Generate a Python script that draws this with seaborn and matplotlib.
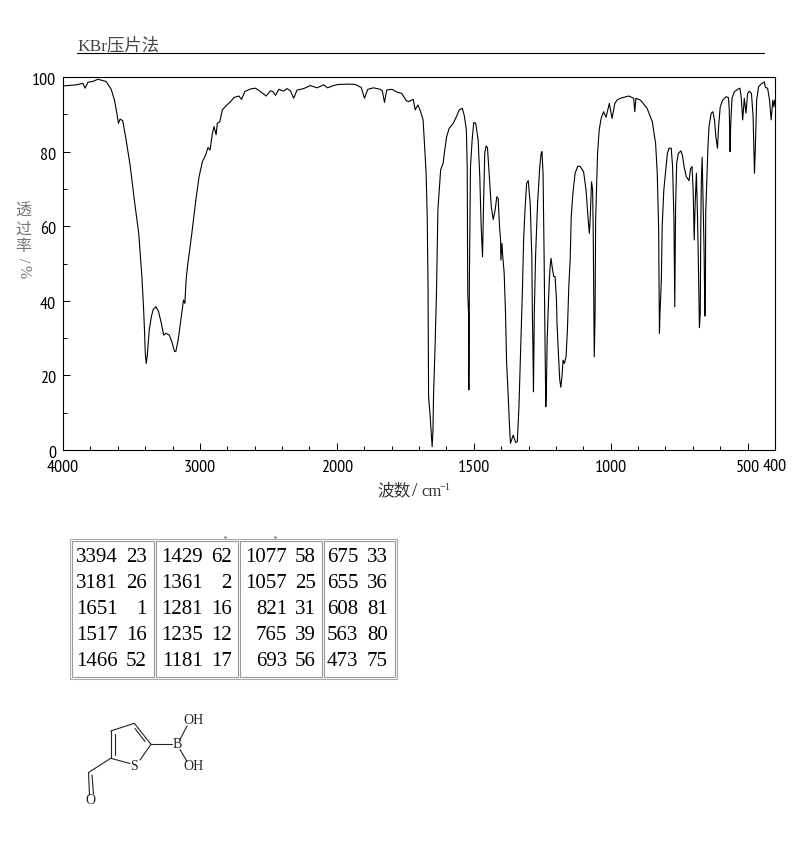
from __future__ import annotations

import matplotlib

matplotlib.use("Agg")
import matplotlib.pyplot as plt
import numpy as np
import pandas as pd
import seaborn as sns
from matplotlib import font_manager
from matplotlib.patches import Rectangle
from matplotlib.transforms import ScaledTranslation


wavenumber = [
    4000, 3903, 3855, 3838, 3818, 3782, 3745, 3685, 3648, 3624, 3607, 3595, 3583, 3564, 3539, 3510, 3479, 3447,
    3423, 3411, 3404, 3399, 3392, 3384, 3370, 3355, 3341, 3321, 3302, 3282, 3265, 3248, 3224, 3205, 3185, 3176,
    3159, 3139, 3120, 3110, 3101, 3091, 3059, 3030, 3006, 2982, 2958, 2941, 2926, 2909, 2897, 2882, 2873, 2855,
    2836, 2812, 2776, 2752, 2715, 2696, 2672, 2630, 2594, 2558, 2516, 2485, 2468, 2448, 2424, 2388, 2364, 2339,
    2315, 2291, 2242, 2194, 2145, 2097, 2068, 2024, 1994, 1957, 1933, 1911, 1899, 1887, 1866, 1842, 1834, 1826,
    1818, 1799, 1779, 1763, 1747, 1738, 1721, 1714, 1704, 1694, 1685, 1680, 1674, 1670, 1667, 1665, 1660, 1652,
    1649, 1647, 1641, 1636, 1631, 1625, 1621, 1612, 1606, 1599, 1590, 1575, 1563, 1553, 1542, 1535, 1527, 1524,
    1522, 1519, 1518, 1517, 1516, 1514, 1512, 1506, 1500, 1493, 1484, 1478, 1473, 1468, 1465, 1460, 1455, 1450,
    1444, 1436, 1429, 1422, 1416, 1411, 1406, 1402, 1401, 1397, 1395, 1389, 1384, 1380, 1374, 1370, 1366, 1356,
    1347, 1341, 1335, 1331, 1325, 1322, 1318, 1313, 1307, 1301, 1294, 1288, 1286, 1284, 1282, 1279, 1274, 1267,
    1259, 1254, 1251, 1247, 1243, 1241, 1237, 1235, 1232, 1227, 1224, 1221, 1218, 1213, 1208, 1203, 1198, 1196,
    1191, 1186, 1182, 1178, 1174, 1169, 1163, 1158, 1153, 1148, 1144, 1138, 1130, 1120, 1111, 1099, 1090, 1084,
    1078, 1075, 1070, 1066, 1064, 1062, 1060, 1057, 1055, 1051, 1048, 1042, 1035, 1026, 1017, 1005, 995, 985,
    977, 965, 934, 916, 912, 908, 891, 867, 848, 836, 830, 825, 822, 820, 818, 815, 812, 806, 799, 793,
    787, 779, 774, 769, 766, 763, 759, 753, 744, 738, 732, 724, 714, 708, 703, 699, 695, 692, 687, 683,
    680, 676, 673, 671, 669, 666, 662, 659, 656, 654, 653, 649, 645, 641, 633, 627, 621, 616, 610, 606,
    600, 591, 579, 570, 567, 564, 562, 557, 549, 536, 528, 523, 518, 512, 506, 500, 494, 486, 480, 475,
    472, 467, 460, 451, 439, 435, 427, 420, 414, 408, 404, 401,
]
transmittance = [
    97.6, 97.9, 98.3, 97.0, 98.6, 98.8, 99.4, 98.8, 96.7, 93.8, 90.3, 87.6, 88.7, 88.3, 83.1, 76.4, 67.0, 58.1,
    46.0, 37.5, 31.3, 25.9, 23.2, 25.5, 32.2, 35.7, 37.7, 38.4, 37.1, 34.0, 30.8, 31.3, 30.8, 29.0, 26.4, 26.4,
    29.5, 34.9, 40.2, 39.3, 45.6, 49.2, 58.1, 67.0, 73.3, 77.3, 79.1, 81.1, 80.4, 84.9, 86.7, 84.5, 87.6, 88.0,
    91.2, 92.2, 93.4, 94.5, 94.9, 94.0, 96.1, 96.8, 97.0, 96.1, 94.9, 96.3, 96.1, 95.1, 96.7, 96.2, 96.9, 96.3,
    94.3, 96.5, 96.9, 97.7, 97.1, 97.9, 97.1, 97.7, 98.0, 98.1, 98.0, 97.2, 94.3, 96.7, 97.1, 96.7, 96.3, 93.2,
    96.5, 96.7, 95.9, 95.6, 93.7, 93.4, 94.0, 91.2, 92.5, 90.7, 88.5, 82.2, 74.2, 62.6, 43.8, 14.3, 9.8, 0.9,
    5.4, 14.3, 28.6, 42.9, 64.3, 70.6, 75.1, 76.9, 80.4, 84.0, 86.2, 87.6, 89.4, 91.2, 91.6, 89.8, 85.8, 76.0,
    42.0, 36.6, 16.1, 27.7, 45.6, 59.9, 76.0, 83.1, 87.8, 87.6, 83.1, 73.3, 59.9, 51.8, 63.5, 79.5, 81.5, 81.1,
    74.2, 65.2, 61.8, 64.3, 67.9, 67.5, 59.9, 56.3, 50.9, 55.4, 52.7, 47.4, 36.6, 23.2, 14.3, 7.1, 1.8, 4.0,
    2.0, 2.2, 11.6, 21.4, 36.6, 43.8, 56.3, 64.3, 71.5, 72.2, 66.1, 51.8, 36.6, 27.7, 15.6, 36.6, 52.7, 66.1,
    76.0, 79.5, 80.0, 74.2, 50.9, 36.6, 11.6, 15.2, 29.5, 40.2, 45.6, 49.2, 51.4, 48.7, 46.5, 46.5, 40.2, 34.0,
    25.9, 18.8, 16.8, 19.7, 24.1, 23.2, 25.0, 32.2, 43.8, 50.9, 62.6, 68.8, 74.2, 76.1, 76.0, 74.6, 69.7, 63.5,
    58.1, 61.7, 71.9, 69.7, 59.9, 42.0, 25.0, 36.6, 61.7, 71.5, 79.5, 85.8, 88.9, 90.7, 89.2, 92.9, 88.9, 92.9,
    93.8, 94.3, 94.9, 94.3, 90.7, 94.3, 93.8, 91.6, 88.0, 82.2, 74.2, 59.9, 31.3, 36.6, 40.2, 45.6, 59.9, 69.7, 75.0, 79.5,
    80.9, 80.9, 76.0, 61.7, 38.4, 65.2, 76.9, 79.5, 80.2, 79.0, 76.0, 73.3, 72.2, 75.5, 76.0, 69.7, 56.3, 65.2, 74.2, 62.6,
    50.9, 32.8, 36.6, 59.9, 72.4, 78.5, 64.3, 53.6, 35.9, 45.6, 63.5, 72.4, 80.9, 86.7, 90.3, 90.7, 88.5, 84.0, 80.9, 86.7,
    92.0, 93.8, 94.7, 94.5, 91.2, 80.0, 86.7, 94.3, 96.0, 96.7, 97.0, 94.3, 88.5, 94.3, 90.3, 95.6, 96.2, 95.6, 89.4, 74.2,
    80.4, 93.8, 97.4, 98.1, 98.7, 97.2, 97.0, 93.8, 88.5, 93.8, 92.0, 93.8,
]

x_major = [4000, 3000, 2000, 1500, 1000, 500]
x_labels = ["4000", "3000", "2000", "1500", "1000", "500"]
x_minor = [3800, 3600, 3400, 3200, 2800, 2600, 2400, 2200, 1900, 1800, 1700, 1600, 1400, 1300, 1200, 1100,
           900, 800, 700, 600]
y_major = [0, 20, 40, 60, 80, 100]
y_minor = [10, 30, 50, 70, 90]

peak_wavenumbers = [
    [3394, 3181, 1651, 1517, 1466],
    [1429, 1361, 1281, 1235, 1181],
    [1077, 1057, 821, 765, 693],
    [675, 655, 608, 563, 473],
]
peak_values = [
    [23, 26, 1, 16, 52],
    [62, 2, 16, 12, 17],
    [58, 25, 31, 39, 56],
    [33, 36, 81, 80, 75],
]


def forward(x):
    x = np.asarray(x, dtype=float)
    return np.where(x > 2000, 2000 + (x - 2000) * 0.5, x)


def inverse(x):
    x = np.asarray(x, dtype=float)
    return np.where(x > 2000, 2000 + (x - 2000) * 2.0, x)


def first_installed(*names):
    installed = {f.name for f in font_manager.fontManager.ttflist}
    return [n for n in names if n in installed]


sns.set_theme(style="white")
narrow = first_installed("PT Sans Narrow", "Archivo Narrow", "Roboto Condensed", "Liberation Sans")[0]
CJK = ["Liberation Serif", "Noto Sans CJK SC", "DejaVu Sans"]
TICK_SIZE = 13

df = pd.DataFrame({"wavenumber": wavenumber, "transmittance": transmittance})

fig = plt.figure(figsize=(7.94, 8.5), dpi=100)
ax = fig.add_axes([63 / 794, 1 - 450 / 850, 712 / 794, 373 / 850])
sns.lineplot(data=df, x="wavenumber", y="transmittance", sort=False, estimator=None, color="black", linewidth=0.8, ax=ax)
ax.set_xscale("function", functions=(forward, inverse))
ax.set_xlim(4000, 400)
ax.set_ylim(0, 100)
ax.set_xlabel("")
ax.set_ylabel("")
ax.set_xticks(x_major, x_labels, fontfamily=narrow, fontsize=TICK_SIZE, color="black")
ax.set_xticks(x_minor, minor=True)
ax.set_yticks(y_major, [str(v) for v in y_major], fontfamily=narrow, fontsize=TICK_SIZE, color="black")
ax.set_yticks(y_minor, minor=True)
ax.tick_params(axis="both", which="major", direction="in", length=5, width=0.7, color="black", bottom=True, left=True)
ax.tick_params(axis="both", which="minor", direction="in", length=3, width=0.7, color="black", bottom=True, left=True)
ax.tick_params(axis="x", which="major", pad=7.5)
ax.tick_params(axis="y", which="major", pad=5)
# y labels sit a little below their ticks in the original
label_shift = ScaledTranslation(0, -2 / 100, fig.dpi_scale_trans)
for label in ax.get_yticklabels():
    label.set_transform(label.get_transform() + label_shift)
for spine in ax.spines.values():
    spine.set_color("black")
    spine.set_linewidth(0.8)

# overlay in pixel coordinates for the header, table and structure
ov = fig.add_axes([0, 0, 1, 1], facecolor="none")
ov.set_xlim(0, 794)
ov.set_ylim(850, 0)
ov.axis("off")

ov.text(775, 467, "400", family=narrow, fontsize=TICK_SIZE, color="black", ha="center", va="center")
ov.text(77, 46, "KBr压片法", family=CJK, fontsize=12.5, color="#444444", ha="left", va="center")
ov.plot([77, 764], [53, 53], color="black", linewidth=0.8)

ov.text(377, 491, "波数", family=CJK, fontsize=12, color="#333333", ha="left", va="center")
ov.text(415, 491, "/", family=CJK, fontsize=14, color="#333333", ha="center", va="center")
ov.text(421, 492, "cm", family=CJK, fontsize=12, color="#333333", ha="left", va="center")
ov.text(440, 487, "−1", family=CJK, fontsize=7.5, color="#333333", ha="left", va="center")

for ch, y, rot in [("透", 212, 0), ("过", 230, 0), ("率", 247, 0), ("/", 260, 270), ("%", 272, 270)]:
    ov.text(23, y, ch, family=CJK, fontsize=11.5, color="#777777", ha="center", va="center", rotation=rot)

# peak table
ov.add_patch(Rectangle((69.5, 538.5), 327, 140, fill=False, edgecolor="#aaaaaa", linewidth=0.8))
cell_left = [71.5, 155.5, 240, 323.5]
cell_right = [154, 238, 322, 394.5]
wave_right = [118, 203, 287, 358]
value_right = [147, 232, 316, 388]
row_y = [558, 584, 610, 636, 662]
for col in range(4):
    ov.add_patch(Rectangle((cell_left[col], 540.5), cell_right[col] - cell_left[col], 136,
                           fill=False, edgecolor="#999999", linewidth=0.8))
    for row in range(5):
        ov.text(wave_right[col], row_y[row], str(peak_wavenumbers[col][row]), family="Liberation Serif",
                fontsize=15, color="black", ha="right", va="center")
        ov.text(value_right[col], row_y[row], str(peak_values[col][row]), family="Liberation Serif",
                fontsize=15, color="black", ha="right", va="center")
ov.plot([225, 275], [537, 537], ls="none", marker="s", ms=0.8, color="#888888")

# structure
bonds = [
    ((110.7, 758.3), (110.7, 731)), ((110.7, 731), (134.3, 723.3)), ((134.3, 723.3), (151, 744.3)),
    ((151, 744.3), (140, 760)), ((110.7, 758.3), (130, 763.5)), ((114.5, 755), (114.5, 733.5)),
    ((135, 728.5), (145, 741.5)), ((151, 744.3), (172, 744.3)), ((110.7, 758.3), (88.5, 772.5)),
    ((88.5, 772.5), (89.5, 795)), ((92, 775), (93.5, 794)), ((180, 739.5), (187, 726)), ((180, 749.5), (187, 761.5)),
]
for (x0, y0), (x1, y1) in bonds:
    ov.plot([x0, x1], [y0, y1], color="#222222", linewidth=0.8)
for label, x, y in [("S", 134.3, 766), ("B", 177, 745), ("OH", 194, 721), ("OH", 194, 767), ("O", 90, 801)]:
    ov.text(x, y, label, family="Liberation Serif", fontsize=10, color="#222222", ha="center", va="center")

fig.savefig("out.png", dpi=100)
